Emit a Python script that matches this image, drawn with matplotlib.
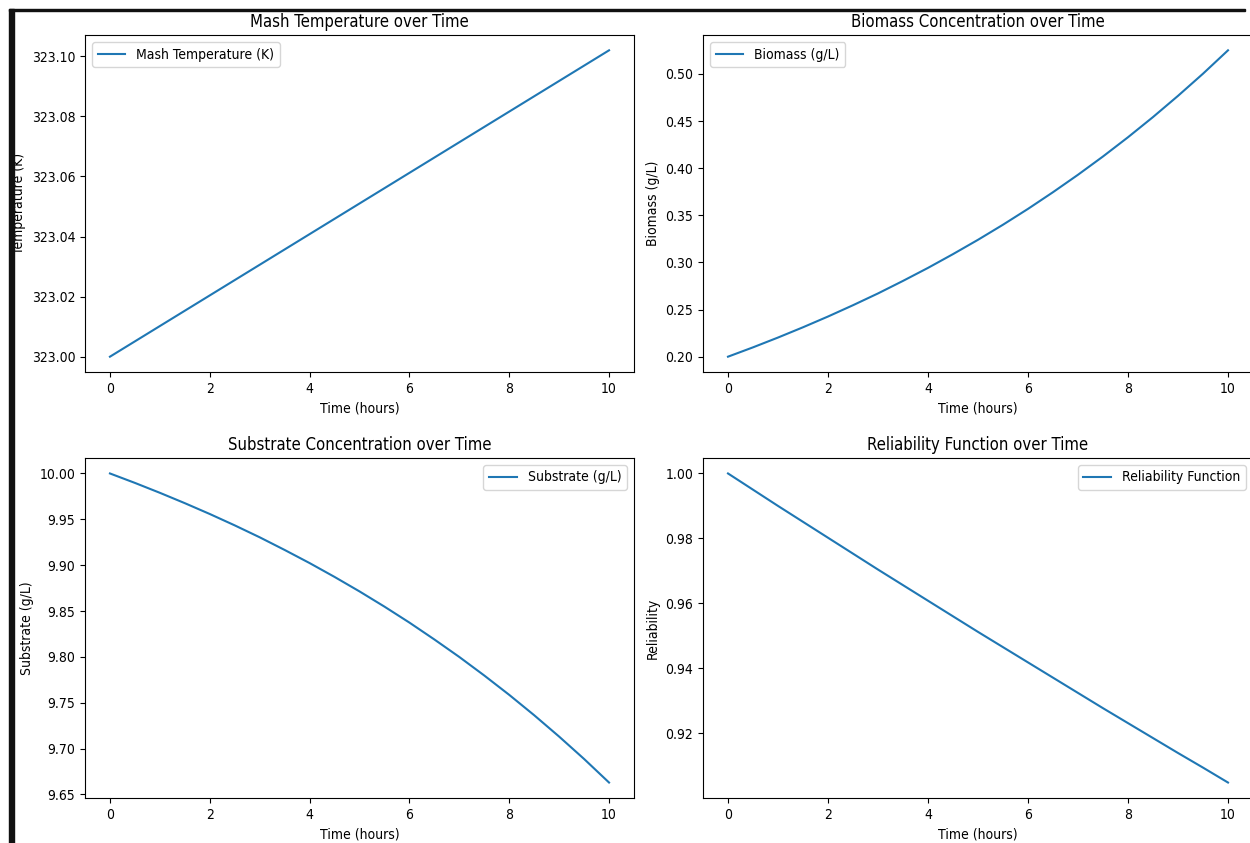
import numpy as np
import matplotlib
matplotlib.use('Agg')
import matplotlib.pyplot as plt
from matplotlib.patches import Rectangle

plt.rcParams['font.family'] = ['DejaVu Sans']
plt.rcParams['font.stretch'] = 'condensed'

# values, every half hour
time_h = [0, 0.5, 1, 1.5, 2, 2.5, 3, 3.5, 4, 4.5, 5,
          5.5, 6, 6.5, 7, 7.5, 8, 8.5, 9, 9.5, 10]
temperature = [323.0000, 323.0051, 323.0102, 323.0153, 323.0204, 323.0255, 323.0306,
               323.0357, 323.0408, 323.0459, 323.0510, 323.0561, 323.0612, 323.0663,
               323.0714, 323.0765, 323.0816, 323.0867, 323.0918, 323.0969, 323.1020]
biomass = [0.2000, 0.2099, 0.2203, 0.2312, 0.2426, 0.2546, 0.2671, 0.2804, 0.2942,
           0.3088, 0.3240, 0.3400, 0.3568, 0.3745, 0.3930, 0.4124, 0.4328, 0.4542,
           0.4767, 0.5002, 0.5250]
substrate = [10.0000, 9.9897, 9.9789, 9.9676, 9.9558, 9.9434, 9.9304, 9.9166, 9.9023,
             9.8872, 9.8714, 9.8548, 9.8374, 9.8190, 9.7999, 9.7797, 9.7586, 9.7364,
             9.7131, 9.6887, 9.6630]
reliability = [1.0000, 0.9950, 0.9900, 0.9851, 0.9802, 0.9753, 0.9704, 0.9656, 0.9608,
               0.9560, 0.9512, 0.9465, 0.9418, 0.9371, 0.9324, 0.9277, 0.9231, 0.9185,
               0.9139, 0.9094, 0.9048]

W, H = 1250, 843
fig = plt.figure(figsize=(W / 100, H / 100), dpi=100)


def px_axes(left, top, right, bottom):
    return fig.add_axes([left / W, 1 - bottom / H, (right - left) / W, (bottom - top) / H])


panels = [
    (px_axes(85, 35, 634, 372), temperature, 'Mash Temperature (K)', 'Temperature (K)',
     'Mash Temperature over Time', 'upper left'),
    (px_axes(703, 35, 1253, 372), biomass, 'Biomass (g/L)', 'Biomass (g/L)',
     'Biomass Concentration over Time', 'upper left'),
    (px_axes(85, 458, 634, 798), substrate, 'Substrate (g/L)', 'Substrate (g/L)',
     'Substrate Concentration over Time', 'upper right'),
    (px_axes(703, 458, 1253, 798), reliability, 'Reliability Function', 'Reliability',
     'Reliability Function over Time', 'upper right'),
]

for ax, y, lab, ylab, title, loc in panels:
    ax.plot(time_h, y, label=lab)
    ax.set_xlabel('Time (hours)')
    ax.set_ylabel(ylab)
    ax.set_title(title, fontsize=12)
    ax.legend(loc=loc)

# screenshot border: black bar on the left, thin line along the top
fig.add_artist(Rectangle((9 / W, 0), 5 / W, 1 - 9 / H, transform=fig.transFigure,
                         color='#111111', zorder=10))
fig.add_artist(Rectangle((9 / W, 1 - 10.5 / H), 1236 / W, 1.5 / H, transform=fig.transFigure,
                         color='#111111', zorder=10))

fig.savefig('out.png', dpi=100)
